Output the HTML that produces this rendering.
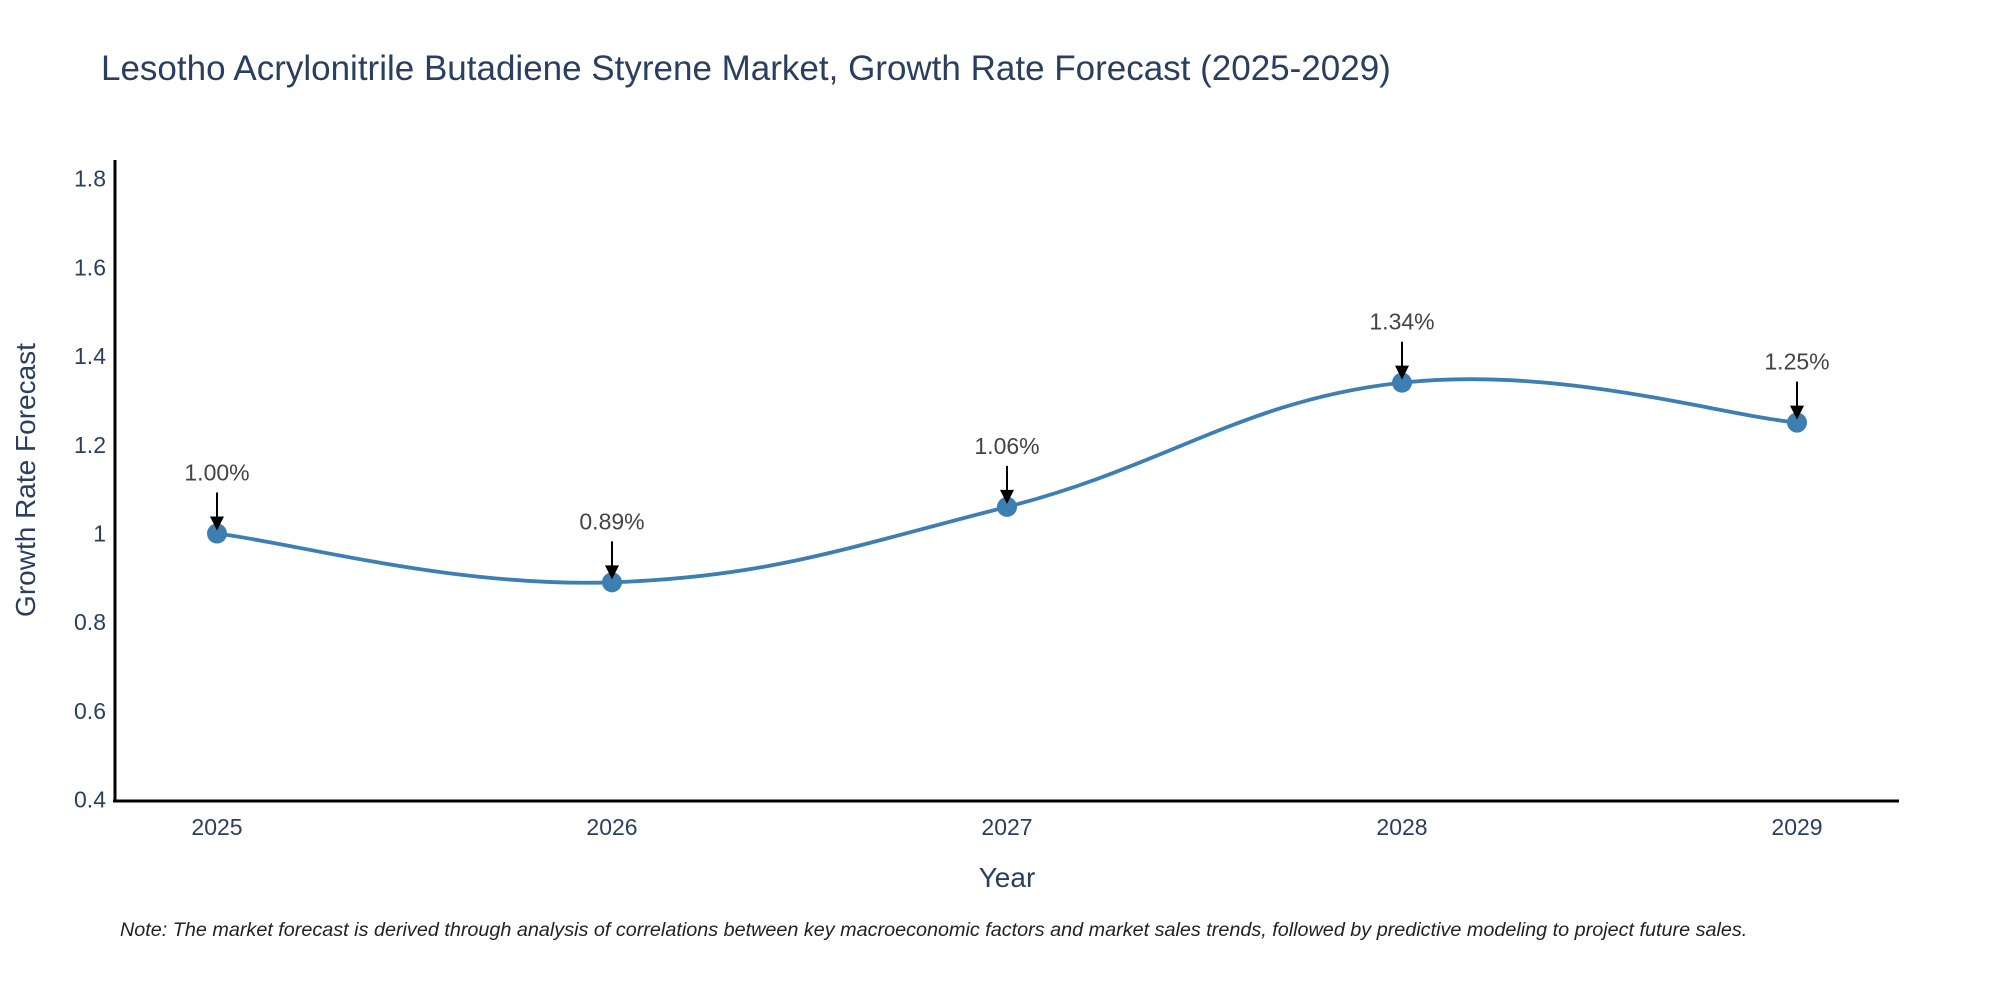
<!DOCTYPE html>
<html><head><meta charset="utf-8"><style>
body{margin:0;background:#fff;}
svg{display:block;font-family:"Liberation Sans","DejaVu Sans",sans-serif;}
</style></head><body>
<svg id="chart" width="2000" height="1000" viewBox="0 0 2000 1000">
<text x="101" y="80" font-size="35" fill="#2a3f5f">Lesotho Acrylonitrile Butadiene Styrene Market, Growth Rate Forecast (2025-2029)</text>
<g id="yticks"></g><g id="xticks"></g>
<line x1="115" y1="160" x2="115" y2="802" stroke="#000" stroke-width="3"/>
<line x1="113" y1="801" x2="1899" y2="801" stroke="#000" stroke-width="3"/>
<path id="line" fill="none" stroke="#3d7eb3" stroke-width="3.8"/>
<g id="marks"></g>
<text transform="translate(35,480) rotate(-90)" text-anchor="middle" font-size="28" fill="#2a3f5f">Growth Rate Forecast</text>
<text x="1007" y="887" text-anchor="middle" font-size="28" fill="#2a3f5f">Year</text>
<text x="120" y="936" font-size="19.8" font-style="italic" fill="#222">Note: The market forecast is derived through analysis of correlations between key macroeconomic factors and market sales trends, followed by predictive modeling to project future sales.</text>
</svg>
<script>
const categories=["2025","2026","2027","2028","2029"];
const values=[1.00,0.89,1.06,1.34,1.25];
const valueLabels=["1.00%","0.89%","1.06%","1.34%","1.25%"];
const yTicks=[0.4,0.6,0.8,1,1.2,1.4,1.6,1.8];
const yTickLabels=["0.4","0.6","0.8","1","1.2","1.4","1.6","1.8"];
const NS="http://www.w3.org/2000/svg";
function xs(i){return 217+i*(1797-217)/(categories.length-1);}
function ys(v){return 799.7-(v-0.4)*(799.7-178.6)/1.4;}
function mk(tag,attrs,parent){const e=document.createElementNS(NS,tag);for(const k in attrs)e.setAttribute(k,attrs[k]);parent.appendChild(e);return e;}
const yt=document.getElementById('yticks');
yTicks.forEach((v,i)=>{const t=mk('text',{x:106,y:ys(v)+8,'text-anchor':'end','font-size':23,fill:'#2a3f5f'},yt);


t.textContent=yTickLabels[i];});
const xt=document.getElementById('xticks');
categories.forEach((c,i)=>{const t=mk('text',{x:xs(i),y:835,'text-anchor':'middle','font-size':23,fill:'#2a3f5f'},xt);


t.textContent=c;});
const P=values.map((v,i)=>[xs(i),ys(v)]);
let d='M'+P[0][0]+','+P[0][1];const s=0.2;
for(let i=0;i<P.length-1;i++){const p0=P[Math.max(0,i-1)],p1=P[i],p2=P[i+1],p3=P[Math.min(P.length-1,i+2)];
const c1=[p1[0]+(p2[0]-p0[0])*s,p1[1]+(p2[1]-p0[1])*s],c2=[p2[0]-(p3[0]-p1[0])*s,p2[1]-(p3[1]-p1[1])*s];
d+=` C${c1[0]},${c1[1]} ${c2[0]},${c2[1]} ${p2[0]},${p2[1]}`;}
document.getElementById('line').setAttribute('d',d);
const m=document.getElementById('marks');
P.forEach((p,i)=>{const c=mk('circle',{cx:p[0],cy:p[1],r:10,fill:'#3d7eb3'},m);


const l=mk('line',{x1:p[0],y1:p[1]-41,x2:p[0],y2:p[1]-14,stroke:'#000','stroke-width':2},m);


const h=mk('polygon',{points:`${p[0]-7},${p[1]-17} ${p[0]+7},${p[1]-17} ${p[0]},${p[1]-3}`,fill:'#000'},m);


const t=mk('text',{x:p[0],y:p[1]-53,'text-anchor':'middle','font-size':23,fill:'#444'},m);


t.textContent=valueLabels[i];});
</script>
</body></html>
